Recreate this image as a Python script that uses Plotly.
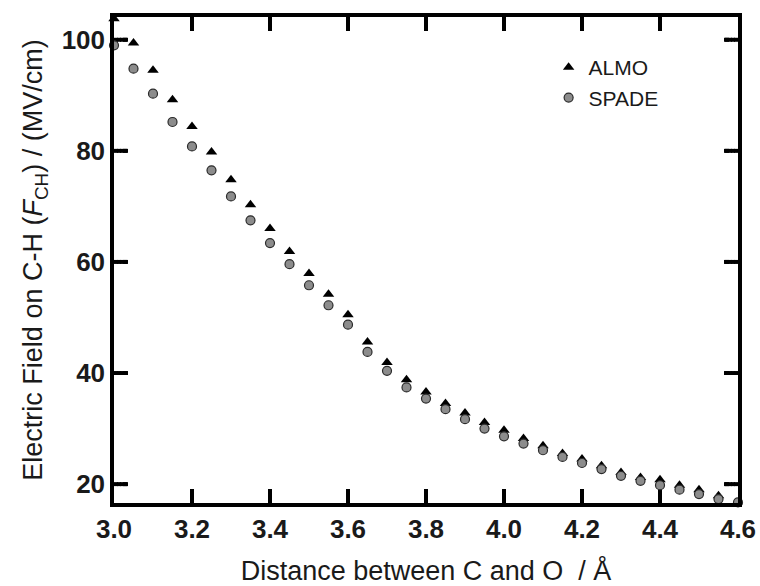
import plotly.graph_objects as go

distance_almo = [3.00, 3.05, 3.10, 3.15, 3.20, 3.25, 3.30, 3.35, 3.40, 3.45, 3.50,
                 3.55, 3.60, 3.65, 3.70, 3.75, 3.80, 3.85, 3.90, 3.95, 4.00, 4.05,
                 4.10, 4.15, 4.20, 4.25, 4.30, 4.35, 4.40, 4.45, 4.50, 4.55]
field_almo = [103.8, 99.4, 94.5, 89.2, 84.4, 79.8, 74.8, 70.3, 66.0, 61.9, 57.9,
              54.2, 50.5, 45.6, 41.9, 38.8, 36.6, 34.5, 32.8, 31.1, 29.7, 28.2,
              26.9, 25.5, 24.5, 23.3, 22.1, 21.2, 20.8, 19.8, 19.0, 17.9]

distance_spade = [3.00, 3.05, 3.10, 3.15, 3.20, 3.25, 3.30, 3.35, 3.40, 3.45, 3.50,
                  3.55, 3.60, 3.65, 3.70, 3.75, 3.80, 3.85, 3.90, 3.95, 4.00, 4.05,
                  4.10, 4.15, 4.20, 4.25, 4.30, 4.35, 4.40, 4.45, 4.50, 4.55, 4.60]
field_spade = [99.0, 94.8, 90.3, 85.2, 80.8, 76.5, 71.8, 67.5, 63.4, 59.6, 55.8,
               52.2, 48.7, 43.8, 40.4, 37.4, 35.4, 33.5, 31.7, 30.0, 28.6, 27.3,
               26.1, 24.9, 23.8, 22.7, 21.5, 20.6, 19.8, 19.0, 18.2, 17.3, 16.7]

x_ticks = [3.0, 3.2, 3.4, 3.6, 3.8, 4.0, 4.2, 4.4, 4.6]
x_tick_labels = ["3.0", "3.2", "3.4", "3.6", "3.8", "4.0", "4.2", "4.4", "4.6"]
y_ticks = [20, 40, 60, 80, 100]
y_tick_labels = ["20", "40", "60", "80", "100"]
x_range = [3.0, 4.6]
y_range = [16.6, 104.1]

FONT = "Liberation Sans"
TXT = "#1a1a1a"
W, H = 760, 586
M_L, M_R, M_T, M_B = 114, 22, 17, 83
TICK_LEN = 14
TICK_W = 4

# data units per pixel on each axis
plot_w = W - M_L - M_R
plot_h = H - M_T - M_B
px_x = (x_range[1] - x_range[0]) / plot_w
px_y = (y_range[1] - y_range[0]) / plot_h

# inward tick marks built from small filled squares along each tick
offsets = list(range(2, TICK_LEN - 1, 3)) + [TICK_LEN - 2]
tick_x, tick_y = [], []
for v in x_ticks[1:-1]:
    for o in offsets:
        tick_x += [v, v]
        tick_y += [y_range[0] + o * px_y, y_range[1] - o * px_y]
for v in y_ticks:
    for o in offsets:
        tick_x += [x_range[0] + o * px_x, x_range[1] - o * px_x]
        tick_y += [v, v]

fig = go.Figure()
fig.add_trace(go.Scatter(
    x=tick_x, y=tick_y, mode="markers", showlegend=False, hoverinfo="skip",
    cliponaxis=False,
    marker=dict(symbol="square", size=TICK_W, color="black", line=dict(width=0)),
))

fig.add_trace(go.Scatter(
    x=distance_almo, y=field_almo, mode="markers", name="ALMO",
    marker=dict(symbol="triangle-up", size=10, color="black"),
    cliponaxis=False,
))
fig.add_trace(go.Scatter(
    x=distance_spade, y=field_spade, mode="markers", name="SPADE",
    marker=dict(symbol="circle", size=9, color="#8c8c8c",
                line=dict(width=1.2, color="#2a2a2a")),
    cliponaxis=False,
))

fig.update_layout(
    width=W, height=H,
    margin=dict(l=M_L, r=M_R, t=M_T, b=M_B),
    paper_bgcolor="white", plot_bgcolor="white",
    font=dict(family=FONT, color=TXT),
    showlegend=True,
    legend=dict(x=0.6965, y=0.938, xanchor="left", yanchor="top",
                bgcolor="rgba(0,0,0,0)", borderwidth=0,
                font=dict(family=FONT, size=21, color=TXT),
                tracegroupgap=0),
    xaxis=dict(
        range=x_range, tickmode="array", tickvals=x_ticks, ticktext=x_tick_labels,
        showline=True, linecolor="black", linewidth=3.5, mirror=True,
        ticks="", showgrid=False, zeroline=False, automargin=False,
        tickfont=dict(family=FONT, size=26, color=TXT, weight="bold"),
        title=dict(text="Distance between C and O  / Å",
                   font=dict(family=FONT, size=27, color=TXT), standoff=21),
    ),
    yaxis=dict(
        range=y_range, tickmode="array", tickvals=y_ticks, ticktext=y_tick_labels,
        showline=True, linecolor="black", linewidth=3.5, mirror=True,
        ticks="", showgrid=False, zeroline=False, automargin=False,
        tickfont=dict(family=FONT, size=26, color=TXT, weight="bold"),
        title=dict(text="Electric Field on C-H (<i>F</i><sub>CH</sub>) / (MV/cm)",
                   font=dict(family=FONT, size=27, color=TXT), standoff=12),
    ),
)

fig.write_html("out.html")
